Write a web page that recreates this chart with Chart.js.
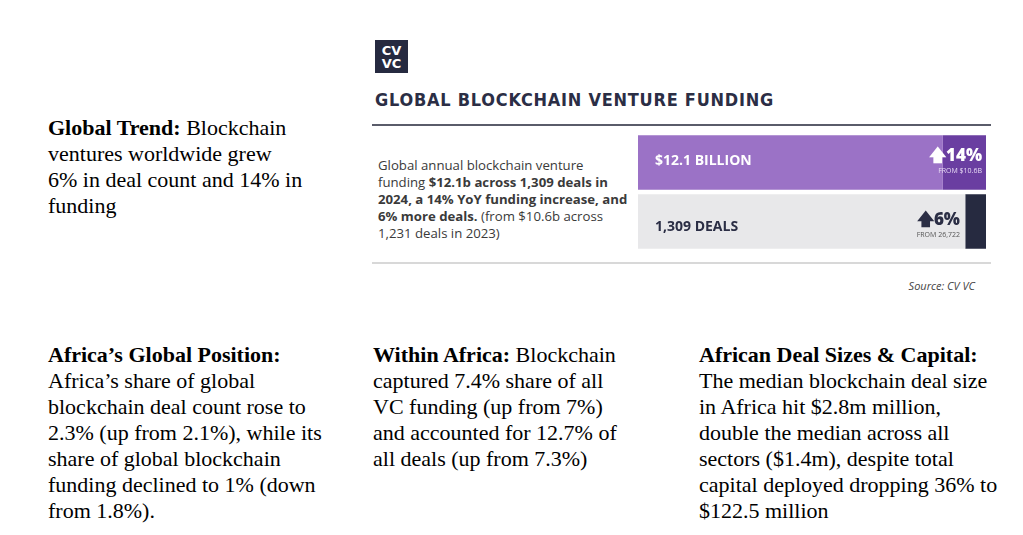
<!DOCTYPE html>
<html><head><meta charset="utf-8">
<script src="https://cdn.jsdelivr.net/npm/chart.js@4"></script>
<style>
body{margin:0;width:1023px;height:535px;background:#fff;position:relative;overflow:hidden;font-family:"Liberation Serif",serif}
.p{position:absolute;font-size:22px;line-height:26px;color:#000}
.s{position:absolute;font-family:"Open Sans",sans-serif}
</style></head><body>
<div class="p" style="left:48px;top:115px;width:255px"><b>Global Trend:</b> Blockchain ventures worldwide grew 6% in deal count and 14% in funding</div>
<div class="p" style="left:48px;top:342px;width:292px"><b>Africa’s Global Position:</b> Africa’s share of global blockchain deal count rose to 2.3% (up from 2.1%), while its share of global blockchain funding declined to 1% (down from 1.8%).</div>
<div class="p" style="left:373px;top:342px;width:265px"><b>Within Africa:</b> Blockchain captured 7.4% share of all VC funding (up from 7%) and accounted for 12.7% of all deals (up from 7.3%)</div>
<div class="p" style="left:699px;top:342px;width:305px"><b>African Deal Sizes &amp; Capital:</b> The median blockchain deal size in Africa hit $2.8m million, double the median across all sectors ($1.4m), despite total capital deployed dropping 36% to $122.5 million</div>

<div class="s" style="left:375px;top:40px;width:33px;height:33px;background:#262a40;color:#fff;font-weight:800;font-size:13px;line-height:13px;text-align:center;padding-top:4px;box-sizing:border-box;font-family:'DejaVu Sans',sans-serif">CV<br>VC</div>
<div class="s" style="left:375px;top:90px;font-weight:700;font-size:17px;color:#2b2e45;letter-spacing:0.8px;font-family:'DejaVu Sans',sans-serif;transform:scaleX(0.95);transform-origin:left">GLOBAL BLOCKCHAIN VENTURE FUNDING</div>
<div style="position:absolute;left:372px;top:124px;width:619px;height:2px;background:#5a5c6a"></div>
<div style="position:absolute;left:372px;top:262px;width:619px;height:2px;background:#d8d8d8"></div>
<div class="s" style="left:378px;top:157px;width:255px;font-size:13.2px;line-height:17px;color:#3a3a3a">Global annual blockchain venture funding <b>$12.1b across 1,309 deals in 2024, a 14% YoY funding increase, and 6% more deals.</b> (from $10.6b across 1,231 deals in 2023)</div>
<div class="s" style="right:48px;top:278px;font-size:11px;font-style:italic;color:#444">Source: CV VC</div>

<div style="position:absolute;left:638px;top:133px;width:348px;height:118px"><canvas id="c"></canvas></div>
<div class="s" style="left:655px;top:150px;color:#fff;font-weight:700;font-size:14px">$12.1 BILLION</div>
<div class="s" style="left:655px;top:216px;color:#2b2e45;font-weight:700;font-size:14px">1,309 DEALS</div>
<div class="s" style="left:925px;top:143px;width:57px;text-align:right;color:#fff;font-weight:800;font-size:17px">🡅14%</div>
<div class="s" style="left:925px;top:166px;width:57px;text-align:right;color:#e8dcf5;font-size:7px">FROM $10.6B</div>
<div class="s" style="left:895px;top:207px;width:65px;text-align:right;color:#2b2e45;font-weight:800;font-size:17px">🡅6%</div>
<div class="s" style="left:895px;top:230px;width:65px;text-align:right;color:#555;font-size:7px">FROM 26,722</div>
<script>
const categories=["Funding ($b)","Deals"];
const prior=[10.6,1231];
const current=[12.1,1309];
const baseShare=prior.map((p,i)=>p/current[i]*100);
const growthShare=prior.map((p,i)=>(current[i]-p)/current[i]*100);
new Chart(document.getElementById('c'),{type:'bar',
data:{labels:categories,datasets:[
{data:baseShare,backgroundColor:['#9b72c6','#e8e8ea'],barPercentage:0.92,categoryPercentage:1},
{data:growthShare,backgroundColor:['#6a3ea1','#262a40'],barPercentage:0.92,categoryPercentage:1}]},
options:{indexAxis:'y',responsive:true,maintainAspectRatio:false,animation:false,
layout:{padding:0},
plugins:{legend:{display:false},tooltip:{enabled:false}},
scales:{x:{stacked:true,display:false,min:0,max:100},y:{stacked:true,display:false}}}});
</script>
</body></html>
